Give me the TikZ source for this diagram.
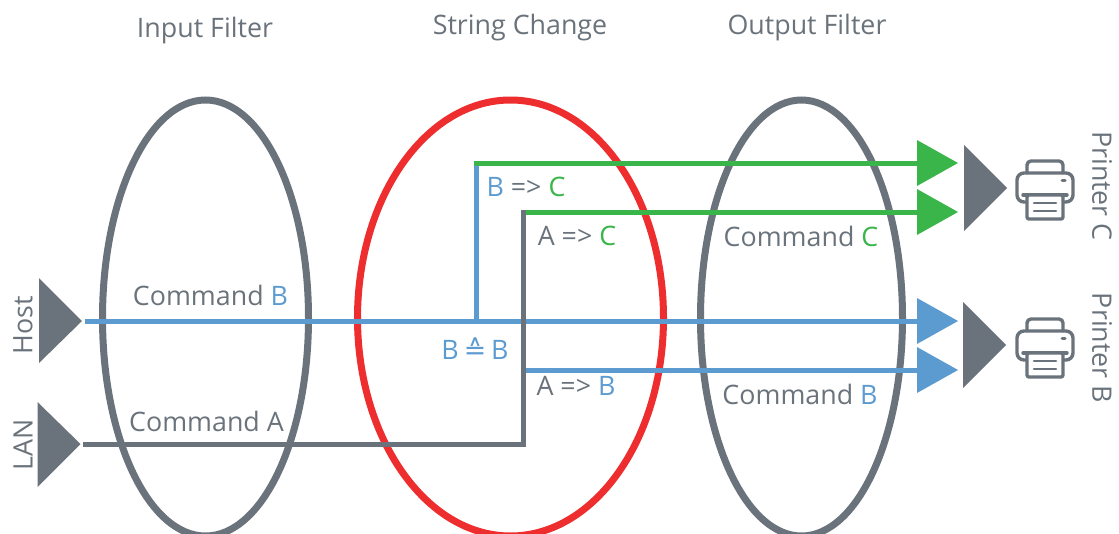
\documentclass[tikz,border=0pt]{standalone}
\usepackage{fontspec}
\setmainfont{Open Sans}
\newfontfamily\symfont{DejaVu Sans}
\definecolor{gr}{HTML}{6A737B}
\definecolor{bl}{HTML}{5B9BD0}
\definecolor{ge}{HTML}{39B54A}
\definecolor{rd}{HTML}{EE2E2E}
\tikzset{
  ring/.style={draw=#1,line width=7pt,fill=none},
  wire/.style={draw=#1,line width=5pt},
  tri/.style={fill=#1,draw=none},
  lab/.style={inner sep=0pt,text=gr,font=\fontsize{26.8}{30}\selectfont},
  pline/.style={draw=gr,line width=3.4pt,line join=round,line cap=round},
  printer/.pic={
    \path[pline,fill=white,rounded corners=4pt] (-18,-17)--(-18,-29)--(18,-29)--(18,-17);
    \path[pline,rounded corners=7pt] (-18,12)--(-28,12)--(-28,-17)--(28,-17)--(28,12)--(18,12);
    \path[pline] (-22,5)--(22,5);
    \path[pline,fill=white,rounded corners=2pt] (-18,5)--(-18,29)--(18,29)--(18,5)--cycle;
    \path[pline,line width=2.6pt] (-11,13)--(11,13) (-11,21)--(11,21);
    \path[pline,line width=3pt] (17,-10)--(20,-10);
  }
}
\begin{document}
\begin{tikzpicture}[x=1pt,y=-1pt]
\useasboundingbox (0,0) rectangle (1119,533);
\clip (0,0) rectangle (1119,533);
% triangles
\fill[tri=gr] (39,278)--(39,363)--(82,321)--cycle;
\fill[tri=gr] (37.5,402)--(37.5,487)--(80.5,444)--cycle;
\fill[tri=ge] (917,140)--(917,186)--(958,163)--cycle;
\fill[tri=ge] (917,189)--(917,235)--(958,212)--cycle;
\fill[tri=bl] (917,298)--(917,344)--(958,321)--cycle;
\fill[tri=bl] (917,347)--(917,393)--(958,370)--cycle;
\fill[tri=gr] (964,145)--(964,231)--(1007,188)--cycle;
\fill[tri=gr] (963,302)--(963,388)--(1006,345)--cycle;
% named ends
\coordinate (hostout) at (85,321);
\coordinate (lanout) at (83,444);
\coordinate (bluein) at (917,321);
\coordinate (blue2in) at (917,370);
\coordinate (grn1in) at (917,163);
\coordinate (grn2in) at (917,212);
\coordinate (branchB) at (476,321);
\coordinate (branchBtop) at (476,163);
\coordinate (cornerA) at (523,444);
\coordinate (topA) at (523,212);
\coordinate (midA) at (523,370);
% rings
\draw[ring=gr] (205.5,318) ellipse [x radius=103,y radius=218];
\draw[ring=rd] (510.5,318) ellipse [x radius=153,y radius=218];
\draw[ring=gr] (801.5,318) ellipse [x radius=101,y radius=218];
% wires
\draw[wire=gr] (lanout)--(cornerA);
\draw[wire=bl] (hostout)--(bluein);
\draw[wire=bl] (branchB)--(branchBtop);
\draw[wire=ge] (473.5,163)--(grn1in);
\draw[wire=ge] (topA)--(grn2in);
\draw[wire=bl] (midA)--(blue2in);
\draw[wire=gr] (523,446.5)--(523,209.5);
% printers
\pic at (1045,190) {printer};
\pic at (1045,348) {printer};
% labels
\node[lab] (t1) at (205,31) {Input Filter};
\node[lab] (t2) at (520,28) {String Change};
\node[lab] (t3) at (807,28) {Output Filter};
\node[lab,rotate=90] (host) at (23,325) {Host};
\node[lab,rotate=90] (lan) at (23,445) {LAN};
\node[lab,rotate=-90] (pc) at (1102,186) {Printer C};
\node[lab,rotate=-90] (pb) at (1102,348) {Printer B};
\node[lab] (cb) at (210.5,295) {Command \textcolor{bl}{B}};
\node[lab] (ca) at (206.5,421) {Command A};
\node[lab] (beqb) at (475,349) {\textcolor{bl}{B\hspace{5pt}{\symfont ≙}\hspace{5pt}B}};
\node[lab] (bc) at (526,187) {\textcolor{bl}{B} => \textcolor{ge}{C}};
\node[lab] (ac) at (577,236) {A => \textcolor{ge}{C}};
\node[lab] (ab) at (576,386) {A => \textcolor{bl}{B}};
\node[lab] (cc) at (801,236) {Command \textcolor{ge}{C}};
\node[lab] (cb2) at (800,394) {Command \textcolor{bl}{B}};
\end{tikzpicture}
\end{document}
